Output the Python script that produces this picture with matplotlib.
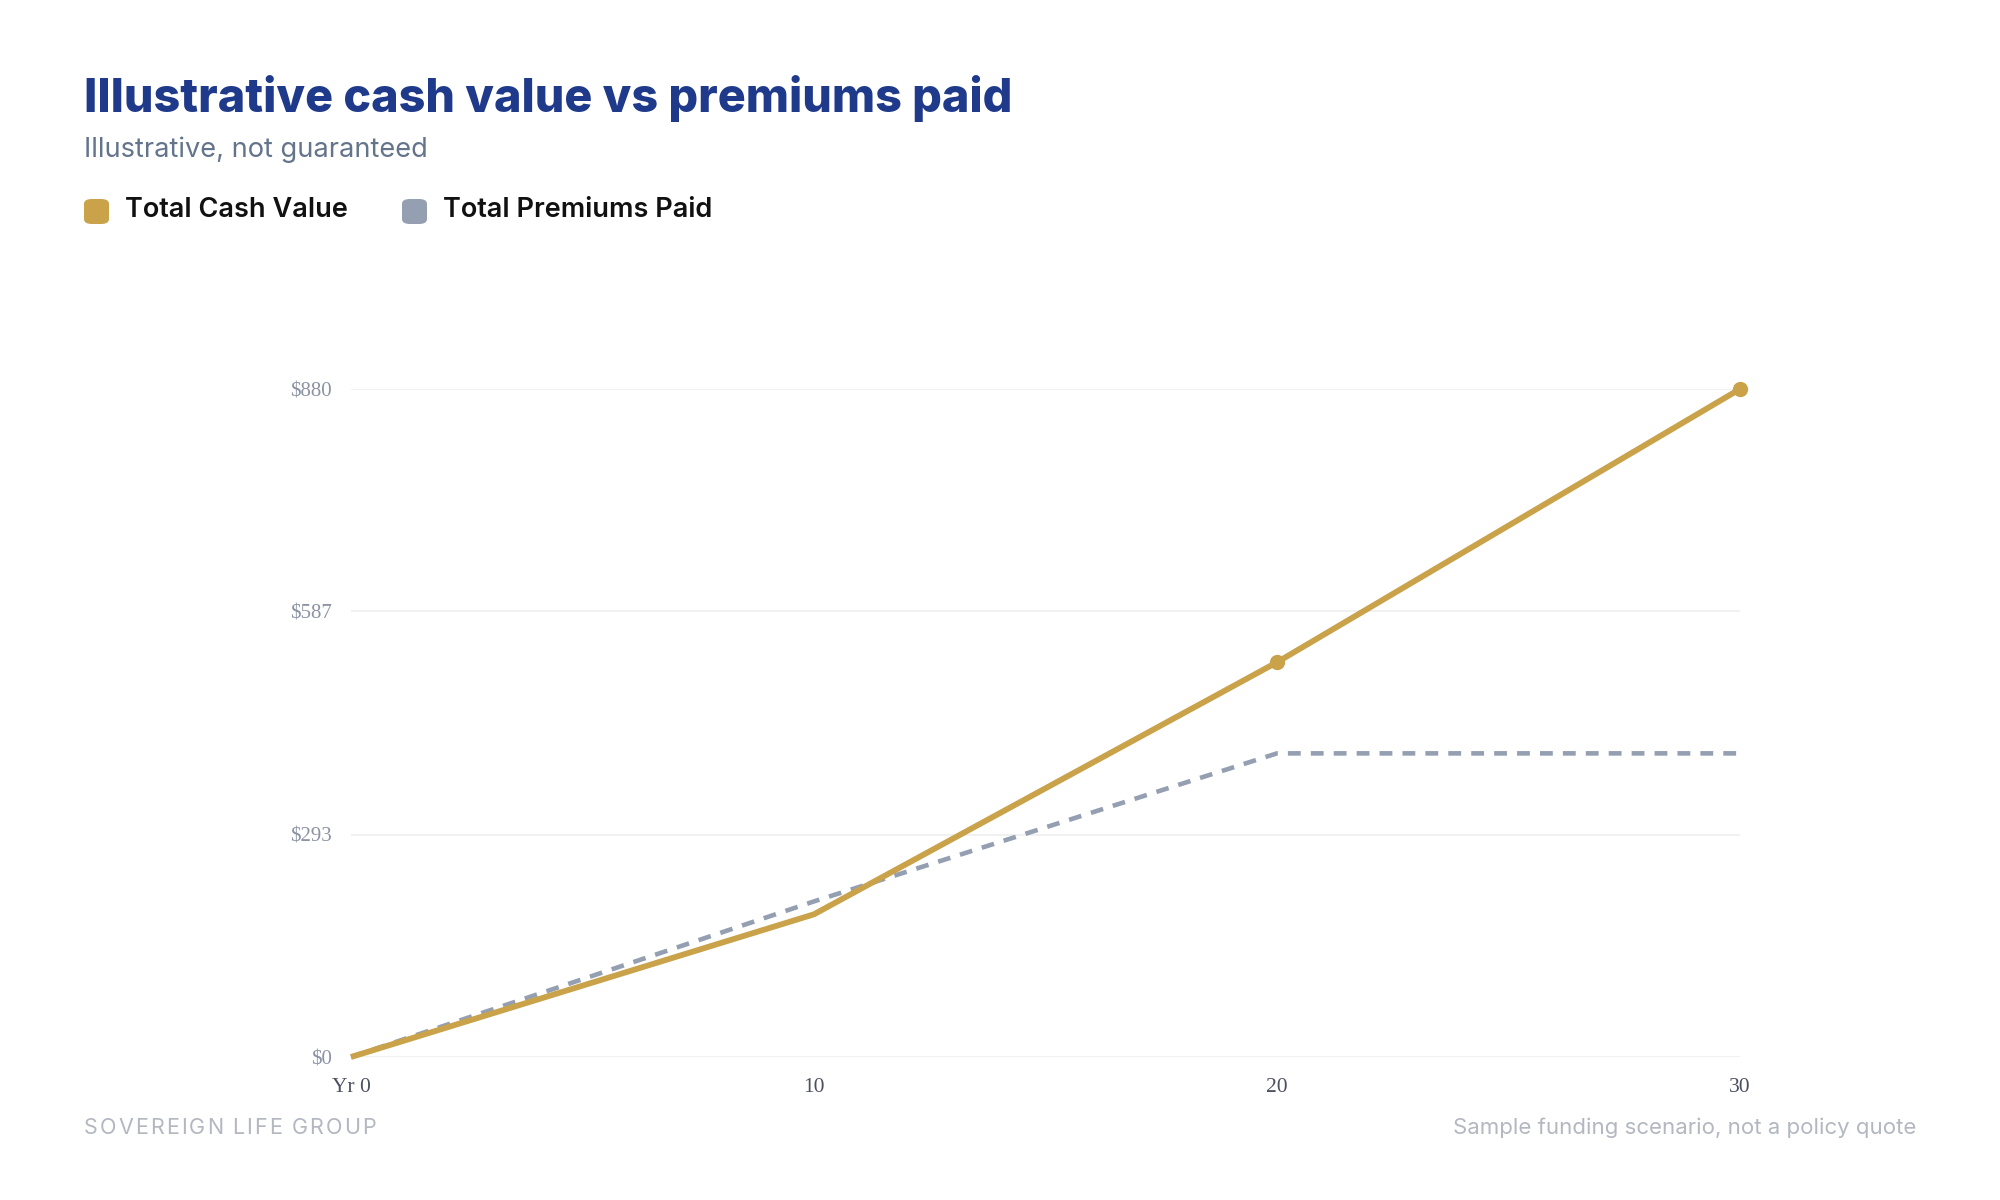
import numpy as np
import matplotlib.pyplot as plt
from matplotlib.patches import FancyBboxPatch

years = [0, 10, 20, 30]
cash_value = [0, 188, 520, 880]
premiums_paid = [0, 205, 400, 400]
y_ticks = [0, 293, 587, 880]
y_tick_labels = ["$0", "$293", "$587", "$880"]
x_ticks = [0, 10, 20, 30]
x_tick_labels = ["Yr 0", "10", "20", "30"]

gold = "#c9a24a"
slate = "#949fb2"
W, H = 2000, 1200

fig = plt.figure(figsize=(20, 12), dpi=100)
fig.patch.set_facecolor("white")

ax = fig.add_axes([351 / W, 1 - 1057 / H, (1740 - 351) / W, (1057 - 389) / H])
ax.set_xlim(0, 30)
ax.set_ylim(0, 880)
for s in ax.spines.values():
    s.set_visible(False)

ax.set_yticks(y_ticks)
ax.set_yticklabels(y_tick_labels, fontname="Liberation Serif", fontsize=15, color="#8b93a3")
ax.set_xticks(x_ticks)
ax.set_xticklabels(x_tick_labels, fontname="Liberation Serif", fontsize=15.5, color="#4b5060")
ax.tick_params(length=0)
ax.tick_params(axis="y", pad=14)
ax.tick_params(axis="x", pad=15)
ax.grid(axis="y", color="#efefef", linewidth=1.2)
ax.set_axisbelow(True)

ax.plot(years, premiums_paid, color=slate, linewidth=3.3, linestyle=(0, (2.8, 2.2)),
        clip_on=False, zorder=3)
ax.plot(years, cash_value, color=gold, linewidth=4.2, solid_capstyle="butt",
        clip_on=False, zorder=4)
ax.plot(years[2:], cash_value[2:], "o", color=gold, markersize=10, clip_on=False, zorder=5)

fig.text(84 / W, 1 - 98 / H, "Illustrative cash value vs premiums paid",
         fontname="Inter", fontweight="heavy", fontsize=33.6, color="#1f3a8a",
         va="center", ha="left")
fig.text(84 / W, 1 - 150 / H, "Illustrative, not guaranteed",
         fontname="Inter", fontsize=19.6, color="#64748b", va="center", ha="left")

for x0, label, c in [(84, "Total Cash Value", gold), (402, "Total Premiums Paid", slate)]:
    box = FancyBboxPatch((x0 / W, 1 - 224 / H), 25 / W, 25 / H,
                         boxstyle="round,pad=0,rounding_size=0.004",
                         transform=fig.transFigure, facecolor=c, edgecolor="none")
    fig.patches.append(box)
    fig.text((x0 + 41) / W, 1 - 210 / H, label, fontname="Inter", fontweight="semibold",
             fontsize=19.5, color="#111111", va="center", ha="left")

# letter-spaced footer brand
renderer = fig.canvas.get_renderer()
x = 84.0
for ch in "SOVEREIGN LIFE GROUP":
    t = fig.text(x / W, 1 - 1128 / H, ch, fontname="Inter", fontsize=15.5,
                 color="#b3b7c0", va="center", ha="left")
    if ch == " ":
        w = 5.0
    else:
        w = t.get_window_extent(renderer).width
    x += w + 2.1

fig.text(1916 / W, 1 - 1128 / H, "Sample funding scenario, not a policy quote",
         fontname="Inter", fontsize=16, color="#b3b7c0", va="center", ha="right")

fig.savefig("out.png", dpi=100, facecolor="white")
